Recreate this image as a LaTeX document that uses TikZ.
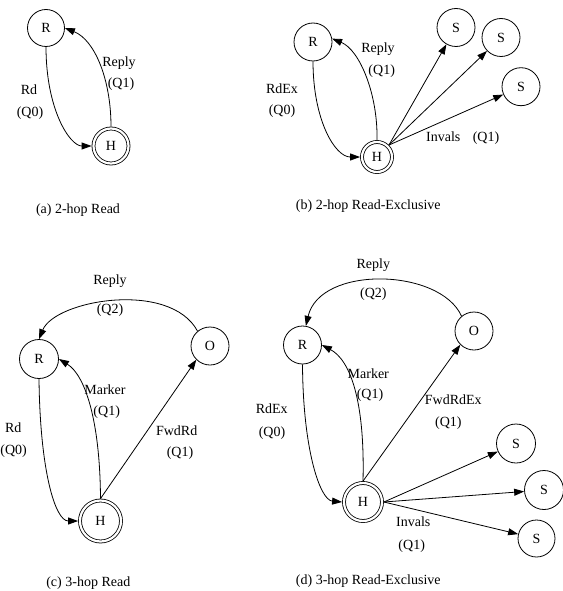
\documentclass[tikz,border=0pt]{standalone}
\usepackage{fontspec}
\setmainfont{Liberation Serif}
\usetikzlibrary{arrows.meta}
\begin{document}
\begin{tikzpicture}[x=1pt,y=-1pt,
  every node/.style={font=\fontsize{14}{16}\selectfont},
  st/.style={circle,draw,line width=0.8pt,inner sep=0pt,minimum size=#1},
  st/.default=38pt,
  hm/.style={circle,draw,double,double distance=2.2pt,line width=0.8pt,inner sep=0pt,outer sep=1.9pt,minimum size=#1},
  lab/.style={anchor=base,inner sep=0pt},
  ar/.style={line width=0.8pt,-{Triangle[length=10pt,width=7pt]}}]
\useasboundingbox (0,0) rectangle (562,591);

% (a) 2-hop Read
\node[st=37pt] (R-a) at (46,28) {R};
\node[hm=35pt] (H-a) at (111,146) {H};
\draw[ar] (R-a.south) .. controls (46,110) and (70,146) .. (H-a.west);
\draw[ar] (H-a.north) .. controls (111,80) and (95,40) .. (R-a.east);
\node[lab] (l-a1) at (29,95) {Rd};
\node[lab] (l-a2) at (30,116.5) {(Q0)};
\node[lab] (l-a3) at (119,66.5) {Reply};
\node[lab] (l-a4) at (121,87.5) {(Q1)};
\node[lab] (cap-a) at (78,213.5) {(a) 2-hop Read};

% (b) 2-hop Read-Exclusive
\node[st] (R-b) at (313,42) {R};
\node[hm=30pt] (H-b) at (377,157) {H};
\node[st] (S1-b) at (456,27.5) {S};
\node[st] (S2-b) at (501,37.5) {S};
\node[st] (S3-b) at (521,86.7) {S};
\draw[ar] (R-b.south) .. controls (313,120) and (335,157) .. (H-b.west);
\draw[ar] (H-b.north) .. controls (378,95) and (360,50) .. (R-b.10);
\draw[ar] (H-b.45) -- (S1-b);
\draw[ar] (H-b.45) -- (S2-b);
\draw[ar] (H-b.45) -- (S3-b);
\node[lab] (l-b1) at (282,93.5) {RdEx};
\node[lab] (l-b2) at (282,114.5) {(Q0)};
\node[lab] (l-b3) at (378,53) {Reply};
\node[lab] (l-b4) at (381.7,74.5) {(Q1)};
\node[lab] (l-b5) at (443.3,142) {Invals};
\node[lab] (l-b6) at (486,142) {(Q1)};
\node[lab] (cap-b) at (368.3,209.5) {(b) 2-hop Read-Exclusive};

% (c) 3-hop Read
\node[st=39pt] (R-c) at (39,359) {R};
\node[st] (O-c) at (210,346) {O};
\node[hm=41pt] (H-c) at (100.5,521) {H};
\draw[ar] (O-c.130) .. controls (170,280) and (55,300) .. (R-c.north);
\draw[ar] (H-c.north) .. controls (100,420) and (85,375) .. (R-c.east);
\draw[ar] (H-c.north) -- (O-c.225);
\draw[ar] (R-c.south) .. controls (40,470) and (55,521) .. (H-c.west);
\node[lab] (l-c1) at (110,284.5) {Reply};
\node[lab] (l-c2) at (110,313) {(Q2)};
\node[lab] (l-c3) at (105,394) {Marker};
\node[lab] (l-c4) at (106.7,415) {(Q1)};
\node[lab] (l-c5) at (176.7,435.6) {FwdRd};
\node[lab] (l-c6) at (180,456) {(Q1)};
\node[lab] (l-c7) at (13.3,432) {Rd};
\node[lab] (l-c8) at (13.6,454.5) {(Q0)};
\node[lab] (cap-c) at (88.3,586) {(c) 3-hop Read};

% (d) 3-hop Read-Exclusive
\node[st] (R-d) at (302.5,345) {R};
\node[st] (O-d) at (474,331) {O};
\node[hm=38pt] (H-d) at (363,502) {H};
\node[st=39pt] (S1-d) at (516,443.5) {S};
\node[st=39pt] (S2-d) at (544,490) {S};
\node[st=37pt] (S3-d) at (536.5,538.5) {S};
\draw[ar] (O-d.130) .. controls (440,268) and (320,265) .. (R-d.80);
\draw[ar] (H-d.north) .. controls (365,400) and (350,360) .. (R-d.east);
\draw[ar] (H-d.north) -- (O-d.225);
\draw[ar] (R-d.south) .. controls (303,450) and (320,500) .. (H-d.west);
\draw[ar] (H-d.east) -- (S1-d);
\draw[ar] (H-d.east) -- (S2-d);
\draw[ar] (H-d.east) -- (S3-d);
\node[lab] (l-d1) at (373.3,268.6) {Reply};
\node[lab] (l-d2) at (373.3,297) {(Q2)};
\node[lab] (l-d3) at (368.3,378) {Marker};
\node[lab] (l-d4) at (370,398) {(Q1)};
\node[lab] (l-d5) at (453.3,404.6) {FwdRdEx};
\node[lab] (l-d6) at (448.3,426) {(Q1)};
\node[lab] (l-d7) at (271.7,413) {RdEx};
\node[lab] (l-d8) at (272,436) {(Q0)};
\node[lab] (l-d9) at (413.3,526) {Invals};
\node[lab] (l-d10) at (411.7,549.6) {(Q1)};
\node[lab] (cap-d) at (368.3,584.6) {(d) 3-hop Read-Exclusive};
\end{tikzpicture}
\end{document}
